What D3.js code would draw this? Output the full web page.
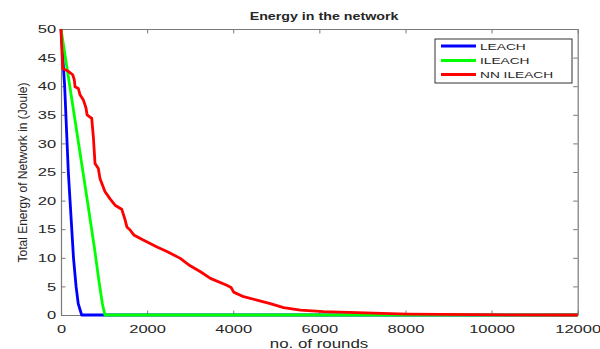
<!DOCTYPE html>
<html>
<head>
<meta charset="utf-8">
<script src="https://cdn.jsdelivr.net/npm/d3@7"></script>
<style>
  body { margin:0; background:#fff; }
  text { font-family: "Liberation Sans", Arial, sans-serif; fill:#262626; }
</style>
</head>
<body>
<svg></svg>
<script>
// data
var seriesNames = ['LEACH', 'ILEACH', 'NN ILEACH'];
var seriesColors = ['#0000ff', '#00ff00', '#ff0000'];

var leachRounds = [0, 85, 170, 210, 250, 290, 350, 400, 480, 12000];
var leachEnergy = [50, 40, 25, 20, 15, 10, 5, 2, 0, 0];

var ileachRounds = [0, 110, 225, 480, 612, 790, 884, 960, 1020, 12000];
var ileachEnergy = [50, 44.6, 39, 26.5, 20, 11, 5.8, 2, 0, 0];

var nnRounds = [0, 40, 170, 272, 310, 326, 403, 442, 519, 581, 605, 674, 713, 751, 790, 867, 907,
  1020, 1140, 1255, 1410, 1490, 1530, 1600, 1690, 1910, 2230, 2460, 2770, 3000, 3230, 3470,
  3850, 3950, 4010, 4240, 4550, 4860, 5170, 5560, 6100, 6880, 8040, 9580, 12000];
var nnEnergy = [50, 43.1, 42.6, 42.0, 41.1, 39.9, 39.6, 38.5, 37.6, 36.2, 35.0, 34.6, 34.4, 31.2, 26.5, 25.6, 23.8,
  21.6, 20.3, 19.2, 18.5, 16.6, 15.4, 14.9, 14.0, 13.1, 11.9, 11.1, 9.9, 8.6, 7.6, 6.4,
  5.2, 4.8, 4.0, 3.2, 2.6, 2.0, 1.3, 0.87, 0.6, 0.4, 0.17, 0.05, 0];

var xTicks = [0, 2000, 4000, 6000, 8000, 10000, 12000];
var yTicks = [0, 5, 10, 15, 20, 25, 30, 35, 40, 45, 50];

var w = 600, h = 349;
var plotLeft = 61, plotRight = 577.7, plotTop = 29, plotBottom = 315;
var sx = 1.4; // text in the picture is drawn wider than normal

var svg = d3.select('svg').attr('width', w).attr('height', h);

var x = d3.scaleLinear().domain([0, 12000]).range([plotLeft, plotRight]);
var y = d3.scaleLinear().domain([0, 50]).range([plotBottom, plotTop]);

// axes with inward ticks, box all round
function styleAxis(g) {
  g.select('.domain').attr('stroke', '#7a7a7a').attr('stroke-width', 1.2);
  g.selectAll('.tick line').attr('stroke', '#7a7a7a').attr('stroke-width', 1);
}

var gx = svg.append('g').attr('transform', 'translate(0,' + plotBottom + ')')
  .call(d3.axisBottom(x).tickValues(xTicks).tickSizeInner(-4.5).tickSizeOuter(0).tickPadding(10).tickFormat(d3.format('d')));
styleAxis(gx);
gx.selectAll('text').attr('font-size', 11.8).attr('fill', '#262626').attr('transform', 'scale(' + sx + ',1)');

var gxt = svg.append('g').attr('transform', 'translate(0,' + plotTop + ')')
  .call(d3.axisTop(x).tickValues(xTicks).tickSizeInner(-4.5).tickSizeOuter(0).tickFormat(''));
styleAxis(gxt);

var gy = svg.append('g').attr('transform', 'translate(' + plotLeft + ',0)')
  .call(d3.axisLeft(y).tickValues(yTicks).tickSizeInner(-4.5).tickSizeOuter(0).tickPadding(3.5));
styleAxis(gy);
gy.selectAll('text').attr('font-size', 11.8).attr('fill', '#262626').attr('transform', 'scale(' + sx + ',1)');

var gyr = svg.append('g').attr('transform', 'translate(' + plotRight + ',0)')
  .call(d3.axisRight(y).tickValues(yTicks).tickSizeInner(-4.5).tickSizeOuter(0).tickFormat(''));
styleAxis(gyr);

// lines
var allSeries = [
  {rounds: leachRounds, energy: leachEnergy},
  {rounds: ileachRounds, energy: ileachEnergy},
  {rounds: nnRounds, energy: nnEnergy}
];

var line = d3.line()
  .x(function(d){ return x(d[0]); })
  .y(function(d){ return y(d[1]); });

var plot = svg.append('g');
allSeries.forEach(function(s, i){
  var pts = s.rounds.map(function(r, k){ return [r, s.energy[k]]; });
  plot.append('path')
    .attr('d', line(pts))
    .attr('fill', 'none')
    .attr('stroke', seriesColors[i])
    .attr('stroke-width', 2.8)
    .attr('stroke-linejoin', 'round');
});

// title and labels
svg.append('text')
  .attr('transform', 'translate(324,19.5) scale(1.25,1)')
  .attr('text-anchor', 'middle')
  .attr('font-size', 11.4)
  .attr('font-weight', 'bold')
  .attr('fill', '#000')
  .text('Energy in the network');

svg.append('text')
  .attr('transform', 'translate(319,347.5) scale(1.35,1)')
  .attr('text-anchor', 'middle')
  .attr('font-size', 12.5)
  .text('no. of rounds');

svg.append('text')
  .attr('transform', 'translate(27,172.5) rotate(-90)')
  .attr('text-anchor', 'middle')
  .attr('font-size', 12)
  .text('Total Energy of Network in (Joule)');

// legend
var legend = svg.append('g');
legend.append('rect')
  .attr('x', 435).attr('y', 39).attr('width', 137).attr('height', 44)
  .attr('fill', '#fff').attr('stroke', '#333').attr('stroke-width', 1);

var legendY = [46, 60.5, 74.5];
seriesNames.forEach(function(name, i){
  legend.append('line')
    .attr('x1', 441).attr('x2', 476)
    .attr('y1', legendY[i]).attr('y2', legendY[i])
    .attr('stroke', seriesColors[i]).attr('stroke-width', 2.8);
  legend.append('text')
    .attr('transform', 'translate(480,' + legendY[i] + ') scale(' + sx + ',1)')
    .attr('dy', '0.36em')
    .attr('font-size', 9.8)
    .attr('fill', '#000')
    .text(name);
});
</script>
</body>
</html>
